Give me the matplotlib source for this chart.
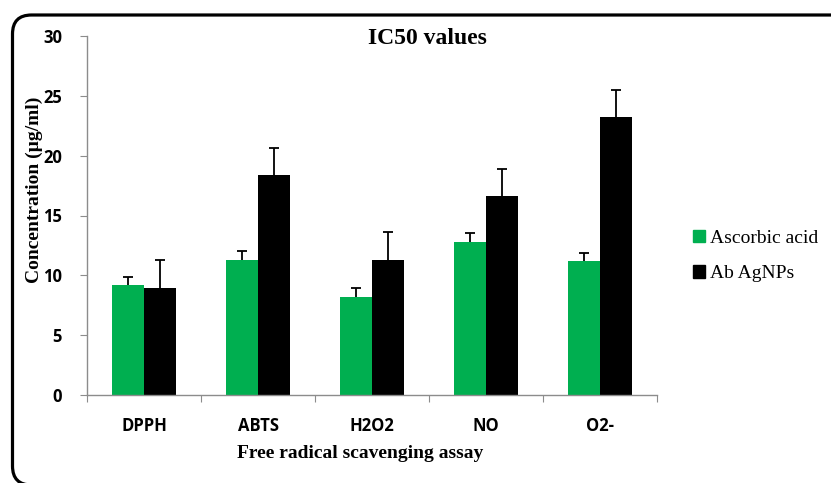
import numpy as np
import matplotlib
matplotlib.use("Agg")
import matplotlib.pyplot as plt
from matplotlib.patches import FancyBboxPatch, Patch
from matplotlib.transforms import IdentityTransform

assays = ["DPPH", "ABTS", "H2O2", "NO", "O2-"]
ascorbic = [9.2, 11.3, 8.2, 12.8, 11.2]
ascorbic_err = [0.7, 0.7, 0.7, 0.7, 0.7]
agnps = [8.95, 18.4, 11.3, 16.6, 23.2]
agnps_err = [2.3, 2.2, 2.3, 2.3, 2.3]

green = "#00AF50"
gray = "#8c8c8c"
serif = "Liberation Serif"
sans = "Open Sans"

fig = plt.figure(figsize=(8.31, 4.83), dpi=100)
ax = fig.add_axes([87 / 831, 1 - 395 / 483, 570 / 831, 359 / 483])

x = np.arange(len(assays))
w = 0.28
ekw = dict(elinewidth=1.3, capthick=1.3, ecolor="black")
b1 = ax.bar(x - w / 2, ascorbic, w, color=green, label="Ascorbic acid",
            yerr=[np.zeros(5), ascorbic_err], capsize=3.5, error_kw=ekw)
b2 = ax.bar(x + w / 2, agnps, w, color="black", label="Ab AgNPs",
            yerr=[np.zeros(5), agnps_err], capsize=3.5, error_kw=ekw)
# only the upper caps
for b in (b1, b2):
    b.errorbar.lines[1][0].set_visible(False)

ax.set_xlim(-0.5, 4.5)
ax.set_ylim(0, 30)
ax.set_yticks(range(0, 31, 5))
ax.set_xticks(np.arange(-0.5, 5, 1))
ax.set_xticklabels([])
ax.set_xticks(x, minor=True)
ax.set_xticklabels(assays, minor=True)

for s in ["top", "right"]:
    ax.spines[s].set_visible(False)
for s in ["left", "bottom"]:
    ax.spines[s].set_color(gray)
    ax.spines[s].set_linewidth(1.0)

ax.tick_params(axis="y", direction="out", length=5, color=gray, pad=13)
ax.tick_params(axis="x", which="major", direction="out", length=5, color=gray)
ax.tick_params(axis="x", which="minor", length=0, pad=16)
for lab in ax.get_yticklabels() + ax.get_xticklabels(minor=True):
    lab.set_fontfamily(sans)
    lab.set_fontweight("bold")
    lab.set_fontsize(12)

fig.text(427 / 831, 1 - 38 / 483, "IC50 values", ha="center", va="center",
         family=serif, weight="bold", fontsize=17)
fig.text(360 / 831, 1 - 453 / 483, "Free radical scavenging assay", ha="center",
         va="center", family=serif, weight="bold", fontsize=14)
fig.text(34 / 831, 1 - 190 / 483, "Concentration (\u00b5g/ml)", ha="center",
         va="center", rotation=90, family=serif, weight="bold", fontsize=14)

handles = [Patch(color=green), Patch(color="black")]
fig.legend(handles, ["Ascorbic acid", "Ab AgNPs"], loc="center left",
           bbox_to_anchor=(693 / 831, 1 - 256 / 483), frameon=False,
           prop={"family": serif, "size": 14}, handlelength=0.6,
           handleheight=0.6, handletextpad=0.3, labelspacing=0.95,
           borderpad=0, borderaxespad=0)

frame = FancyBboxPatch((12.5, -2), 850, 470, boxstyle="round,pad=0,rounding_size=19",
                       transform=IdentityTransform(), fill=False,
                       edgecolor="black", linewidth=2.3)
fig.patches.append(frame)

fig.savefig("out.png", dpi=100)
